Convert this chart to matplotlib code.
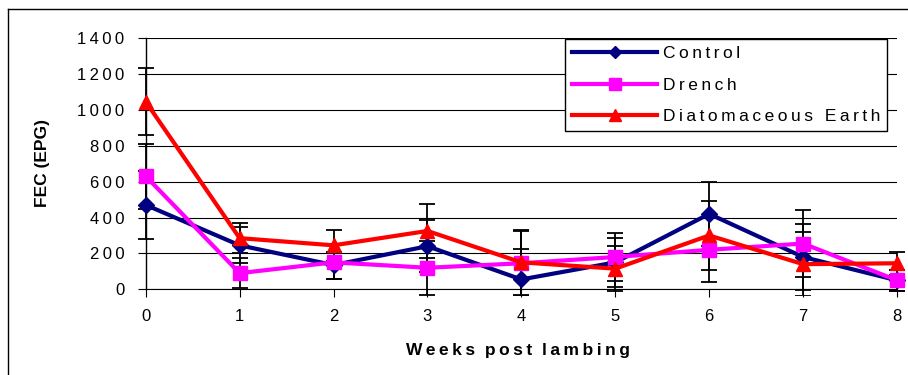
import matplotlib
matplotlib.use("Agg")
import matplotlib.pyplot as plt
from matplotlib.lines import Line2D
from matplotlib.transforms import Bbox, TransformedBbox

plt.rcParams['font.family'] = ['Liberation Sans', 'DejaVu Sans']

weeks = [0, 1, 2, 3, 4, 5, 6, 7, 8]
control = [470, 245, 135, 240, 55, 150, 420, 180, 50]
control_err = [190, 100, 75, 145, 170, 135, 180, 185, 60]
drench = [630, 90, 150, 120, 145, 180, 220, 255, 50]
drench_err = [180, 85, 95, 150, 180, 135, 178, 185, 60]
earth = [1045, 285, 245, 325, 150, 115, 300, 140, 145]
earth_err = [188, 85, 85, 150, 180, 125, 190, 180, 65]
yticks = [0, 200, 400, 600, 800, 1000, 1200, 1400]
series_names = ["Control", "Drench", "Diatomaceous Earth"]

TS = "\u2009"
def spaced(s):
    return TS.join(list(s))

W, H = 908, 375
fig = plt.figure(figsize=(W / 100, H / 100), dpi=100)
ax = fig.add_axes([145.7 / W, 1 - 289.3 / H, (897 - 145.7) / W, (289.3 - 38) / H])

ax.set_xlim(0, 8)
ax.set_ylim(0, 1400)
ax.set_yticks(yticks)
ax.set_yticklabels([spaced(str(v)) for v in yticks])
ax.set_xticks(weeks)
ax.set_xticklabels([str(w) for w in weeks])
ax.yaxis.grid(True, color='black', lw=0.8)
ax.set_axisbelow(True)
for s in ['top', 'right']:
    ax.spines[s].set_visible(False)
ax.spines['left'].set_linewidth(1.0)
ax.spines['bottom'].set_linewidth(0.8)
ax.tick_params(axis='y', direction='out', length=5.5, width=0.8, labelsize=12, pad=10)
ax.tick_params(axis='x', direction='out', length=5.5, width=0.8, labelsize=12, pad=9)

clipbox = TransformedBbox(Bbox([[-1, -30], [9, 1500]]), ax.transData)

specs = [
    (control, control_err, '#000080', 'D', 8, series_names[0]),
    (drench, drench_err, '#FF00FF', 's', 10, series_names[1]),
    (earth, earth_err, '#FF0000', '^', 10, series_names[2]),
]
for i, (vals, errs, col, mk, ms, name) in enumerate(specs):
    eb = ax.errorbar(weeks, vals, yerr=errs, fmt='none', ecolor='black',
                     elinewidth=1.3, capsize=5.5, capthick=1.3, zorder=2 + i * 0.1)
    for art in list(eb.lines[1]) + list(eb.lines[2]):
        art.set_clip_box(clipbox)
    ax.plot(weeks, vals, color=col, lw=3, marker=mk, ms=ms,
            markeredgecolor=col, zorder=3 + i * 0.1, clip_on=False, label=name)

leg_handles = [
    Line2D([], [], color='#000080', lw=3, marker='D', ms=6),
    Line2D([], [], color='#FF00FF', lw=3, marker='s', ms=8),
    Line2D([], [], color='#FF0000', lw=3, marker='^', ms=8),
]
leg = fig.legend(leg_handles, [spaced(n) for n in series_names], loc='upper right',
                 bbox_to_anchor=(887 / W, 1 - 39 / H), bbox_transform=fig.transFigure,
                 borderaxespad=0, fontsize=12.5, frameon=True, fancybox=False, shadow=False,
                 framealpha=1, edgecolor='black', handlelength=4.9, handletextpad=0.3,
                 labelspacing=0.95, borderpad=0.4, numpoints=1)
leg.get_frame().set_linewidth(1.0)

fig.text(43 / W, 1 - 163 / H, "FEC (EPG)", rotation=90, ha='center', va='center',
         fontsize=12.5, fontweight='bold')
fig.text(518 / W, 1 - 355 / H, spaced("Weeks") + "  " + spaced("post") + "  " + spaced("lambing"),
         ha='center', va='baseline', fontsize=12.5, fontweight='bold')

fig.add_artist(Line2D([7.5 / W, 7.5 / W], [0, 1 - 9 / H], color='black', lw=1, transform=fig.transFigure))
fig.add_artist(Line2D([7.5 / W, 1.01], [1 - 9 / H, 1 - 9 / H], color='black', lw=1, transform=fig.transFigure))

fig.savefig("out.png", dpi=100)
